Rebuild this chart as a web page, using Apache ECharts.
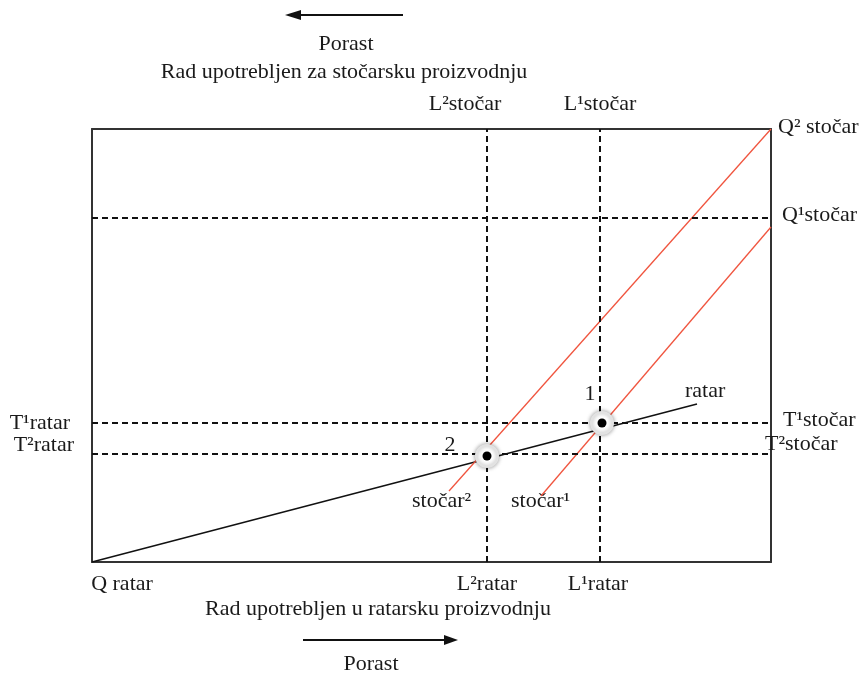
<!DOCTYPE html>
<html>
<head>
<meta charset="utf-8">
<script src="https://cdn.jsdelivr.net/npm/echarts@6/dist/echarts.min.js"></script>
<style>
html,body{margin:0;padding:0;background:#fff;overflow:hidden;}
#main{width:861px;height:676px;}
</style>
</head>
<body>
<div id="main"></div>
<script>
// ---- data (diagram units) ----
const xBottomTicks = [0, 395, 506];
const xBottomLabels = ['Q ratar', 'L²ratar', 'L¹ratar'];
const xTopTicks = [395, 508];
const xTopLabels = ['L²stočar', 'L¹stočar'];
const yLeftTicks = [139, 108];
const yLeftLabels = ['T¹ratar', 'T²ratar'];
const yRightTicks = [433, 344, 139, 108];
const yRightLabels = ['Q² stočar', 'Q¹stočar', 'T¹stočar', 'T²stočar'];
const vDash = [395, 508];
const hDash = [344, 139, 108];
const ratarLine = [[0, 0], [605, 158]];
const stocar2Line = [[357, 71], [679, 433]];
const stocar1Line = [[449, 66], [679, 335]];
const equilibriaNames = ['1', '2'];
const equilibriaPts = [[510, 139], [395, 106]];

const FONT = 'Liberation Serif';
const FS = 22;
const TXT = '#1a1a1a';

function richFor(paddings) {
  const r = {};
  paddings.forEach((p, i) => {
    r['b' + i] = {fontFamily: FONT, fontSize: FS, color: TXT, padding: p};
  });
  return r;
}
function fmt(ticks, labels) {
  return function (v) {
    const i = ticks.findIndex(t => Math.abs(t - v) < 0.01);
    return i < 0 ? '' : '{b' + i + '|' + labels[i] + '}';
  };
}
const axisLineStyle = {show: true, onZero: false, lineStyle: {color: '#333', width: 2}};

const chart = echarts.init(document.getElementById('main'), null, {renderer: 'canvas'});
const option = {
  animation: false,
  backgroundColor: '#fff',
  grid: {left: 92, top: 129, width: 679, height: 433, containLabel: false, outerBoundsMode: 'none'},
  xAxis: [
    {
      type: 'value', min: 0, max: 679, position: 'bottom',
      axisLine: axisLineStyle, axisTick: {show: false}, splitLine: {show: false},
      axisLabel: {
        customValues: xBottomTicks, formatter: fmt(xBottomTicks, xBottomLabels),
        margin: 11, fontFamily: FONT, fontSize: FS, color: TXT,
        rich: richFor([[0, 0, 0, 60], [0, 0, 0, 0], [0, 0, 0, 0]])
      }
    },
    {
      type: 'value', min: 0, max: 679, position: 'top',
      axisLine: axisLineStyle, axisTick: {show: false}, splitLine: {show: false},
      axisLabel: {
        customValues: xTopTicks, formatter: fmt(xTopTicks, xTopLabels),
        margin: 14, fontFamily: FONT, fontSize: FS, color: TXT,
        rich: richFor([[0, 44, 0, 0], [0, 0, 0, 0]])
      }
    }
  ],
  yAxis: [
    {
      type: 'value', min: 0, max: 433, position: 'left',
      axisLine: axisLineStyle, axisTick: {show: false}, splitLine: {show: false},
      axisLabel: {
        customValues: yLeftTicks, formatter: fmt(yLeftTicks, yLeftLabels),
        margin: 18, fontFamily: FONT, fontSize: FS, color: TXT,
        rich: richFor([[0, 4, 0, 0], [0, 0, 18, 0]])
      }
    },
    {
      type: 'value', min: 0, max: 433, position: 'right',
      axisLine: axisLineStyle, axisTick: {show: false}, splitLine: {show: false},
      axisLabel: {
        customValues: yRightTicks, formatter: fmt(yRightTicks, yRightLabels),
        margin: -6, fontFamily: FONT, fontSize: FS, color: TXT,
        rich: richFor([[0, 0, 4, 13], [0, 0, 6, 17], [0, 0, 6, 18], [0, 0, 20, 0]])
      }
    }
  ],
  series: [
    {
      type: 'line', xAxisIndex: 0, yAxisIndex: 0, data: [], symbol: 'none', z: 1,
      markLine: {
        silent: true, symbol: 'none', animation: false,
        label: {show: false},
        lineStyle: {type: [6, 4], color: '#111', width: 2},
        data: vDash.map(v => ({xAxis: v})).concat(hDash.map(v => ({yAxis: v})))
      }
    },
    {
      name: 'ratar', type: 'line', data: ratarLine, symbol: 'none', z: 3,
      lineStyle: {color: '#111', width: 1.5}
    },
    {
      name: 'stočar²', type: 'line', data: stocar2Line, symbol: 'none', z: 3,
      lineStyle: {color: '#f0553f', width: 1.3}
    },
    {
      name: 'stočar¹', type: 'line', data: stocar1Line, symbol: 'none', z: 3,
      lineStyle: {color: '#f0553f', width: 1.3}
    },
    {
      type: 'scatter', z: 5, symbolSize: 22,
      data: equilibriaPts.map((p, i) => ({name: equilibriaNames[i], value: p})),
      itemStyle: {color: '#fff', opacity: 1, borderColor: '#e2e2e2', borderWidth: 2,
        shadowBlur: 4, shadowColor: 'rgba(0,0,0,0.35)'},
      label: {
        show: true, formatter: '{b}', position: 'inside',
        fontFamily: FONT, fontSize: FS, color: TXT
      },
      labelLayout: function (params) {
        const off = params.dataIndex === 0 ? [-12, -29] : [-37, -11];
        return {dx: off[0], dy: off[1]};
      }
    },
    {
      type: 'scatter', z: 6, symbolSize: 9, silent: true,
      data: equilibriaPts,
      itemStyle: {color: '#000', opacity: 1}
    }
  ],
  graphic: [
    // top arrow
    {type: 'line', shape: {x1: 299, y1: 15, x2: 403, y2: 15}, style: {stroke: '#111', lineWidth: 2}},
    {type: 'polygon', shape: {points: [[285, 15], [301, 10], [301, 20]]}, style: {fill: '#111'}},
    {type: 'text', x: 346, y: 44, style: {text: 'Porast', font: FS + 'px "' + FONT + '"', fill: TXT, textAlign: 'center', textVerticalAlign: 'middle'}},
    {type: 'text', x: 344, y: 72, style: {text: 'Rad upotrebljen za stočarsku proizvodnju', font: FS + 'px "' + FONT + '"', fill: TXT, textAlign: 'center', textVerticalAlign: 'middle'}},
    // bottom arrow
    {type: 'line', shape: {x1: 303, y1: 640, x2: 446, y2: 640}, style: {stroke: '#111', lineWidth: 2}},
    {type: 'polygon', shape: {points: [[458, 640], [444, 635], [444, 645]]}, style: {fill: '#111'}},
    {type: 'text', x: 378, y: 609, style: {text: 'Rad upotrebljen u ratarsku proizvodnju', font: FS + 'px "' + FONT + '"', fill: TXT, textAlign: 'center', textVerticalAlign: 'middle'}},
    {type: 'text', x: 371, y: 664, style: {text: 'Porast', font: FS + 'px "' + FONT + '"', fill: TXT, textAlign: 'center', textVerticalAlign: 'middle'}},
    // curve labels
    {type: 'text', x: 685, y: 391, style: {text: 'ratar', font: FS + 'px "' + FONT + '"', fill: TXT, textAlign: 'left', textVerticalAlign: 'middle'}},
    {type: 'text', x: 412, y: 501, style: {text: 'stočar²', font: FS + 'px "' + FONT + '"', fill: TXT, textAlign: 'left', textVerticalAlign: 'middle'}},
    {type: 'text', x: 511, y: 501, style: {text: 'stočar¹', font: FS + 'px "' + FONT + '"', fill: TXT, textAlign: 'left', textVerticalAlign: 'middle'}}
  ]
};
chart.setOption(option);
</script>
</body>
</html>
